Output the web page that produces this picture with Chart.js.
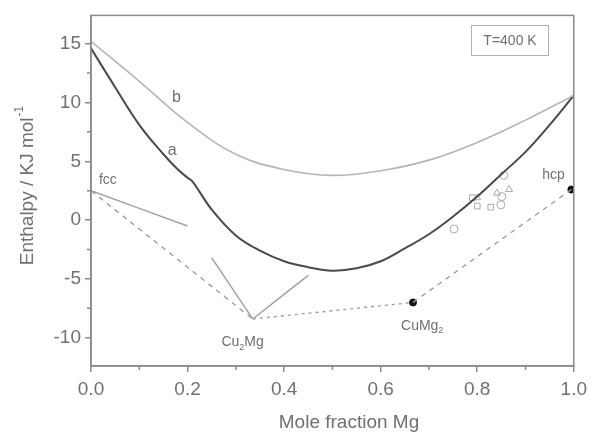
<!DOCTYPE html>
<html>
<head>
<meta charset="utf-8">
<script src="https://cdn.jsdelivr.net/npm/chart.js@4.4.1/dist/chart.umd.min.js"></script>
<style>
  html, body { margin: 0; padding: 0; background: #fff; }
  #wrap { width: 593px; height: 436px; }
</style>
</head>
<body>
<div id="wrap"><canvas id="enthalpyChart"></canvas></div>
<script>
// mole fraction Mg grid for the two model curves
const curveX = [0, 0.05, 0.1, 0.15, 0.18, 0.2, 0.21, 0.25, 0.3, 0.35, 0.4, 0.45, 0.5, 0.55, 0.6, 0.65, 0.7, 0.75, 0.8, 0.85, 0.9, 0.95, 1.0];
// curve a (dark) and curve b (light), kJ/mol
const curveA = [14.6, 11.3, 8.1, 5.6, 4.3, 3.6, 3.3, 0.9, -1.3, -2.6, -3.5, -4.0, -4.3, -4.1, -3.5, -2.4, -1.2, 0.3, 2.0, 3.9, 5.8, 8.1, 10.6];
const curveBx = [0, 0.1, 0.2, 0.3, 0.4, 0.5, 0.6, 0.7, 0.8, 0.9, 1.0];
const curveB = [15.2, 11.8, 8.3, 5.6, 4.3, 3.8, 4.2, 5.1, 6.6, 8.5, 10.6];

// fcc segment and Cu2Mg segments
const fccX = [0, 0.2];
const fccY = [2.5, -0.5];
const cu2mgLeftX = [0.25, 0.335];
const cu2mgLeftY = [-3.2, -8.4];
const cu2mgRightX = [0.335, 0.45];
const cu2mgRightY = [-8.4, -4.7];

// common tangent construction
const hullDashX = [0, 0.335];
const hullDashY = [2.5, -8.4];
const hullDotX = [0.335, 0.667];
const hullDotY = [-8.4, -7.0];
const hullDash2X = [0.667, 0.995];
const hullDash2Y = [-7.0, 2.6];

// compounds (filled)
const compoundX = [0.667, 0.995];
const compoundY = [-7.0, 2.6];

// experimental points (open symbols)
const expCircleX = [0.752, 0.849, 0.851, 0.855];
const expCircleY = [-0.75, 1.3, 2.0, 3.8];
const expSquareX = [0.79, 0.80, 0.828];
const expSquareY = [1.9, 1.2, 1.1];
const expTriX = [0.80, 0.841, 0.866];
const expTriY = [1.9, 2.3, 2.6];

const xTicks = [0, 0.2, 0.4, 0.6, 0.8, 1.0];
const yTicks = [-10, -5, 0, 5, 10, 15];

const pts = (xs, ys) => xs.map((x, i) => ({ x: x, y: ys[i] }));

const AXIS_COLOR = '#8a8a8a';
const TEXT_COLOR = '#707070';
const FONT = 'Liberation Sans, Arial, sans-serif';

// minor ticks, frame, axis titles and text labels
const decorPlugin = {
    id: 'decor',
    afterDraw(chart) {
        const ctx = chart.ctx;
        const xs = chart.scales.x, ys = chart.scales.y;
        const a = chart.chartArea;
        ctx.save();
        ctx.strokeStyle = AXIS_COLOR;
        ctx.lineWidth = 1.5;
        ctx.strokeRect(a.left, a.top, a.right - a.left, a.bottom - a.top);

        // minor ticks
        ctx.beginPath();
        [0.1, 0.3, 0.5, 0.7, 0.9].forEach(v => {
            const px = xs.getPixelForValue(v);
            ctx.moveTo(px, a.bottom);
            ctx.lineTo(px, a.bottom + 4);
        });
        [-7.5, -2.5, 2.5, 7.5, 12.5].forEach(v => {
            const py = ys.getPixelForValue(v);
            ctx.moveTo(a.left, py);
            ctx.lineTo(a.left - 4, py);
        });
        ctx.stroke();

        // axis titles
        ctx.fillStyle = TEXT_COLOR;
        ctx.font = '19px ' + FONT;
        ctx.textAlign = 'center';
        ctx.textBaseline = 'middle';
        ctx.fillText('Mole fraction Mg', 349, 423);

        ctx.save();
        ctx.translate(28, 186);
        ctx.rotate(-Math.PI / 2);
        const main = 'Enthalpy / KJ mol';
        const wMain = ctx.measureText(main).width;
        ctx.font = '12px ' + FONT;
        const wSup = ctx.measureText('-1').width;
        const start = -(wMain + wSup) / 2;
        ctx.textAlign = 'left';
        ctx.font = '19px ' + FONT;
        ctx.fillText(main, start, 0);
        ctx.font = '12px ' + FONT;
        ctx.fillText('-1', start + wMain + 1, -8);
        ctx.restore();

        // curve / phase labels
        const label = (txt, x, y, size) => {
            ctx.font = size + 'px ' + FONT;
            ctx.textAlign = 'center';
            ctx.fillText(txt, xs.getPixelForValue(x), ys.getPixelForValue(y));
        };
        label('b', 0.177, 10.4, 16);
        label('a', 0.168, 5.9, 16);
        label('fcc', 0.035, 3.4, 14);
        label('hcp', 0.958, 3.8, 14);

        // subscripted compound names
        const sub = (pre, s, post, x, y) => {
            const size = 14;
            ctx.font = size + 'px ' + FONT;
            const w1 = ctx.measureText(pre).width;
            const w3 = ctx.measureText(post).width;
            ctx.font = '9px ' + FONT;
            const w2 = ctx.measureText(s).width;
            let px = xs.getPixelForValue(x) - (w1 + w2 + w3) / 2;
            const py = ys.getPixelForValue(y);
            ctx.textAlign = 'left';
            ctx.font = size + 'px ' + FONT;
            ctx.fillText(pre, px, py);
            ctx.font = '9px ' + FONT;
            ctx.fillText(s, px + w1, py + 5);
            ctx.font = size + 'px ' + FONT;
            ctx.fillText(post, px + w1 + w2, py);
        };
        sub('Cu', '2', 'Mg', 0.314, -10.4);
        sub('CuMg', '2', '', 0.686, -9.0);

        // temperature box
        ctx.strokeStyle = '#b0b0b0';
        ctx.lineWidth = 1;
        ctx.strokeRect(471.5, 25.5, 77, 30);
        ctx.font = '14px ' + FONT;
        ctx.textAlign = 'center';
        ctx.fillText('T=400 K', 510, 41);
        ctx.restore();
    }
};

const lineSet = (data, color, width, dash) => ({
    data: data,
    showLine: true,
    borderColor: color,
    borderWidth: width,
    borderDash: dash || [],
    pointRadius: 0,
    tension: 0.4,
    fill: false
});

new Chart(document.getElementById('enthalpyChart'), {
    type: 'scatter',
    data: {
        datasets: [
            lineSet(pts(curveBx, curveB), '#b5b5b5', 1.6),
            lineSet(pts(curveX, curveA), '#4a4a4a', 2),
            lineSet(pts(fccX, fccY), '#a0a0a0', 1.4),
            lineSet(pts(cu2mgLeftX, cu2mgLeftY), '#a0a0a0', 1.4),
            lineSet(pts(cu2mgRightX, cu2mgRightY), '#a0a0a0', 1.4),
            lineSet(pts(hullDashX, hullDashY), '#a0a0a0', 1.4, [5, 5]),
            lineSet(pts(hullDotX, hullDotY), '#a0a0a0', 1.4, [3, 4]),
            lineSet(pts(hullDash2X, hullDash2Y), '#a0a0a0', 1.4, [5, 5]),
            {
                data: pts(compoundX, compoundY),
                pointStyle: 'circle',
                pointRadius: 3.5,
                backgroundColor: '#111',
                borderColor: '#111'
            },
            {
                data: pts(expCircleX, expCircleY),
                pointStyle: 'circle',
                pointRadius: 4,
                backgroundColor: 'rgba(0,0,0,0)',
                borderColor: '#aaa',
                borderWidth: 1
            },
            {
                data: pts(expSquareX, expSquareY),
                pointStyle: 'rect',
                pointRadius: 4,
                backgroundColor: 'rgba(0,0,0,0)',
                borderColor: '#aaa',
                borderWidth: 1
            },
            {
                data: pts(expTriX, expTriY),
                pointStyle: 'triangle',
                pointRadius: 4,
                backgroundColor: 'rgba(0,0,0,0)',
                borderColor: '#aaa',
                borderWidth: 1
            }
        ]
    },
    options: {
        responsive: true,
        maintainAspectRatio: false,
        animation: false,
        layout: { padding: { top: 7, right: 18, left: 0, bottom: 0 } },
        plugins: { legend: { display: false }, tooltip: { enabled: false } },
        scales: {
            x: {
                type: 'linear',
                min: 0,
                max: 1,
                afterFit: s => { s.height = 70; },
                afterBuildTicks: s => { s.ticks = xTicks.map(v => ({ value: v })); },
                border: { display: true, color: AXIS_COLOR, width: 1.5 },
                grid: { drawOnChartArea: false, drawTicks: true, tickLength: 6, color: AXIS_COLOR, lineWidth: 1.5 },
                ticks: {
                    padding: 6,
                    color: TEXT_COLOR,
                    font: { family: FONT, size: 19 },
                    callback: v => v.toFixed(1)
                }
            },
            y: {
                type: 'linear',
                min: -12.4,
                max: 17.4,
                afterFit: s => { s.width = 91; },
                afterBuildTicks: s => { s.ticks = yTicks.map(v => ({ value: v })); },
                border: { display: true, color: AXIS_COLOR, width: 1.5 },
                grid: { drawOnChartArea: false, drawTicks: true, tickLength: 6, color: AXIS_COLOR, lineWidth: 1.5 },
                ticks: {
                    padding: 4,
                    color: TEXT_COLOR,
                    font: { family: FONT, size: 19 },
                    callback: v => String(v)
                }
            }
        }
    },
    plugins: [decorPlugin]
});
</script>
</body>
</html>
